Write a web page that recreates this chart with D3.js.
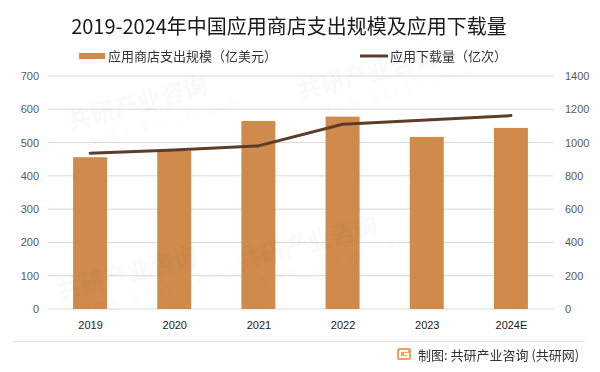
<!DOCTYPE html>
<html>
<head>
<meta charset="utf-8">
<script src="https://cdn.jsdelivr.net/npm/d3@7"></script>
<style>
  body { margin: 0; background: #fff; }
  svg { font-family: "Noto Sans CJK SC", "Noto Sans", sans-serif; }
</style>
</head>
<body>
<svg width="600" height="372"></svg>
<script>
const years = ["2019", "2020", "2021", "2022", "2023", "2024E"];
const spending = [456, 475, 565, 578, 517, 544];     // 亿美元
const downloads = [936, 956, 980, 1110, 1136, 1162]; // 亿次
const leftTicks = [0, 100, 200, 300, 400, 500, 600, 700];
const rightTicks = [0, 200, 400, 600, 800, 1000, 1200, 1400];

const svg = d3.select("svg"),
    margin = {top: 76, right: 47, bottom: 63, left: 48},
    width = 600 - margin.left - margin.right,
    height = 372 - margin.top - margin.bottom,
    g = svg.append("g").attr("transform", "translate(" + margin.left + "," + margin.top + ")");

// faint watermark
const wm = svg.append("g").attr("fill", "#000").attr("opacity", 0.025)
    .style("font-weight", "bold");
[[70, 130], [300, 100], [240, 270], [60, 300]].forEach(function(p) {
  const w = wm.append("g").attr("transform", "translate(" + p[0] + "," + p[1] + ") rotate(-15)");
  w.append("text").attr("font-size", 24).text("共研产业咨询");
  w.append("text").attr("y", 20).attr("x", 18).attr("font-size", 12)
    .style("letter-spacing", "5px").style("font-weight", "normal").text("www.gonyn.com");
});

const xc = d3.scalePoint().domain(years).range([0, width]).padding(0.5);
const yL = d3.scaleLinear().domain([0, 700]).range([height, 0]);
const yR = d3.scaleLinear().domain([0, 1400]).range([height, 0]);

// grid
g.append("g")
  .selectAll("line").data(leftTicks).join("line")
    .attr("x1", 0).attr("x2", width)
    .attr("y1", d => yL(d)).attr("y2", d => yL(d))
    .attr("stroke", "#d9d9d9").attr("stroke-width", 1);

// left axis
g.append("g")
    .call(d3.axisLeft(yL).tickValues(leftTicks).tickSize(0).tickPadding(9))
    .call(a => a.select(".domain").remove())
    .selectAll("text").attr("fill", "#595959").attr("font-size", 11);

// right axis
g.append("g")
    .attr("transform", "translate(" + width + ",0)")
    .call(d3.axisRight(yR).tickValues(rightTicks).tickFormat(d3.format("d")).tickSize(0).tickPadding(12))
    .call(a => a.select(".domain").remove())
    .selectAll("text").attr("fill", "#595959").attr("font-size", 11);

// x axis
g.append("g")
    .attr("transform", "translate(0," + height + ")")
    .call(d3.axisBottom(xc).tickSize(0).tickPadding(12))
    .call(a => a.select(".domain").remove())
    .selectAll("text").attr("fill", "#1a1a1a").attr("font-size", 11);

// bars
g.selectAll(".bar").data(spending).join("rect")
    .attr("class", "bar")
    .attr("x", (d, i) => xc(years[i]) - 17)
    .attr("width", 34)
    .attr("y", d => yL(d))
    .attr("height", d => height - yL(d))
    .attr("fill", "#d08a4c");

// line
const line = d3.line()
    .x((d, i) => xc(years[i]))
    .y(d => yR(d));

g.append("path")
    .datum(downloads)
    .attr("d", line)
    .attr("fill", "none")
    .attr("stroke", "#5c3d28")
    .attr("stroke-width", 3)
    .attr("stroke-linejoin", "round")
    .attr("stroke-linecap", "round");

// title
svg.append("text")
    .attr("x", 289).attr("y", 34)
    .attr("text-anchor", "middle")
    .attr("font-size", 20)
    .attr("fill", "#1a1a1a")
    .text("2019-2024年中国应用商店支出规模及应用下载量");

// legend
const lg = svg.append("g").attr("font-size", 13).attr("fill", "#333");
lg.append("rect").attr("x", 79).attr("y", 53).attr("width", 26).attr("height", 6).attr("fill", "#d08a4c");
lg.append("text").attr("x", 108).attr("y", 61).text("应用商店支出规模（亿美元）");
lg.append("line").attr("x1", 360).attr("x2", 388).attr("y1", 56).attr("y2", 56)
    .attr("stroke", "#5c3d28").attr("stroke-width", 3);
lg.append("text").attr("x", 390).attr("y", 61).text("应用下载量（亿次）");

// footer
svg.append("line").attr("x1", 13).attr("x2", 585).attr("y1", 341.5).attr("y2", 341.5)
    .attr("stroke", "#e6e6e6").attr("stroke-width", 1);
const ic = svg.append("g").attr("transform", "translate(397,348)");
ic.append("rect").attr("width", 14).attr("height", 12).attr("rx", 2).attr("fill", "#f0a060");
ic.append("path").attr("d", "M3,3 H11 M3,3 V9 H11 V6 H7").attr("stroke", "#fff")
    .attr("stroke-width", 2).attr("fill", "none");
svg.append("text")
    .attr("x", 418).attr("y", 360)
    .attr("font-size", 13)
    .attr("fill", "#333")
    .text("制图: 共研产业咨询 (共研网)");
</script>
</body>
</html>
